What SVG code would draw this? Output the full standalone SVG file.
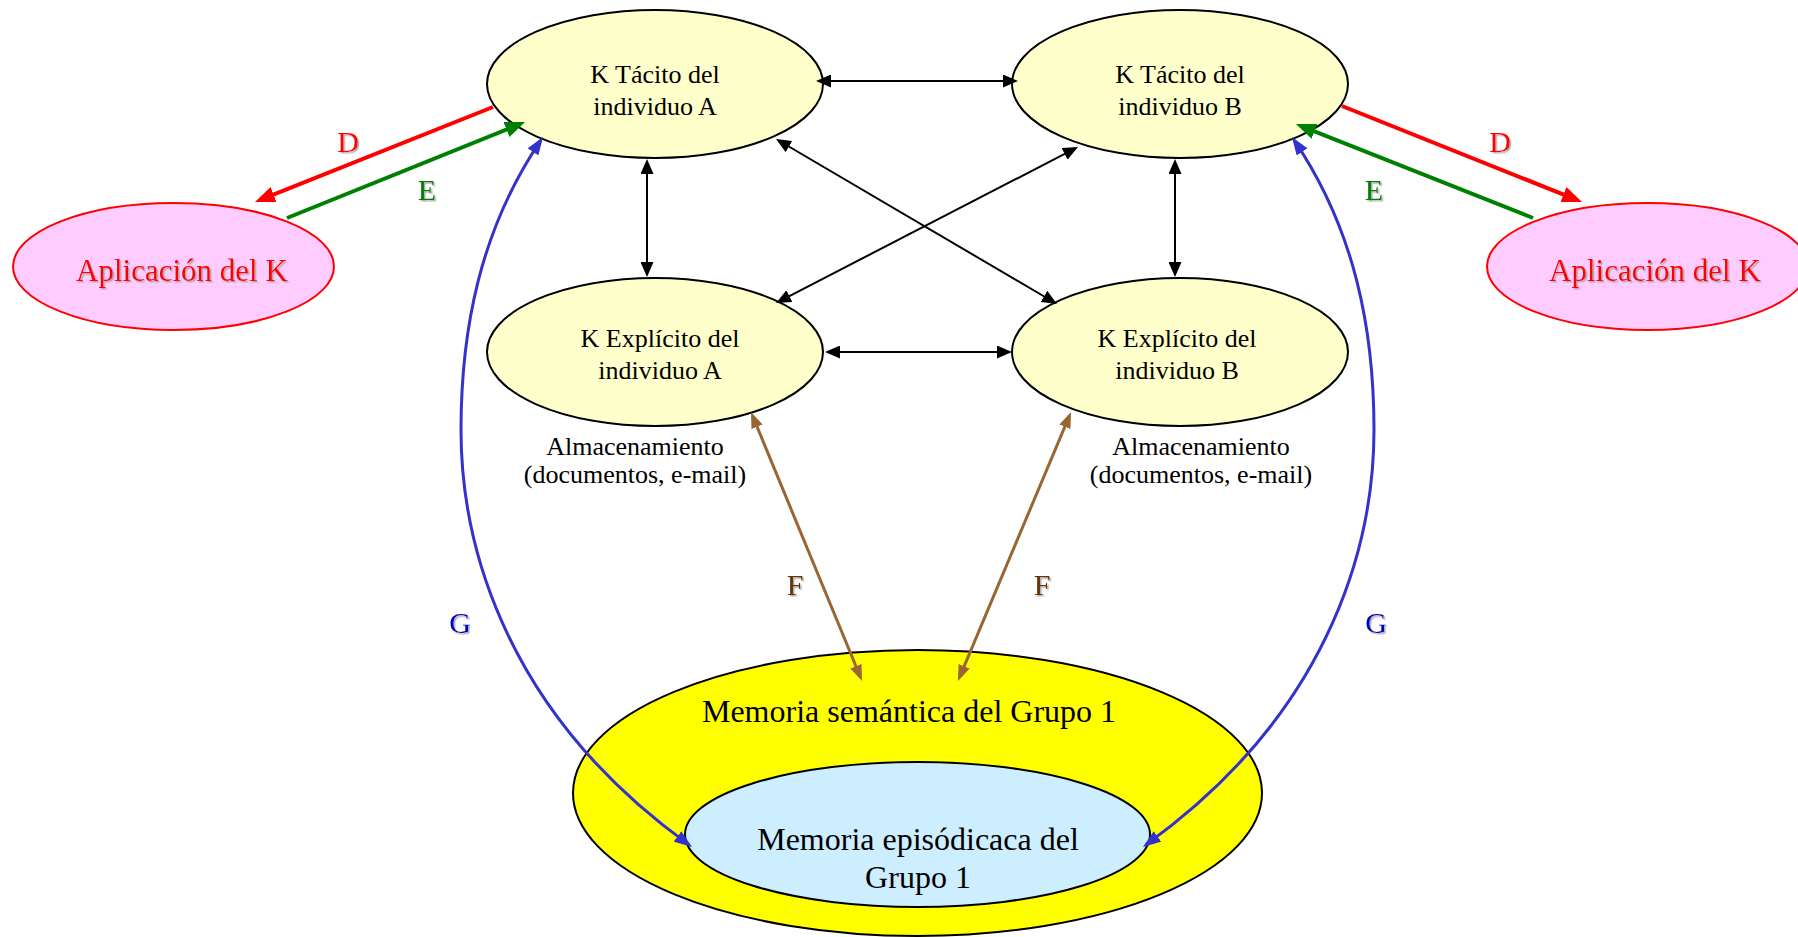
<svg xmlns="http://www.w3.org/2000/svg" width="1798" height="937" viewBox="0 0 1798 937">
<style>
.t{font-family:"Liberation Serif","Times New Roman",serif;text-anchor:middle}
.nd{font-size:26px;fill:#000}
.k{fill:#ffffcc;stroke:#000;stroke-width:2}
.ap{fill:#ffccff;stroke:#ff0000;stroke-width:2}
.apt{font-size:31px;fill:#ff0000}
.mem{font-size:32px;fill:#000}
.lbl{font-size:30px}
.blk{fill:none;stroke:#000;stroke-width:2}
.red{fill:none;stroke:#ff0000;stroke-width:4}
.grn{fill:none;stroke:#008000;stroke-width:4}
.brn{fill:none;stroke:#996633;stroke-width:3}
.blu{fill:none;stroke:#3333cc;stroke-width:3}
</style>
<defs>
<filter id="sh" x="-20%" y="-20%" width="140%" height="140%">
<feDropShadow dx="1.5" dy="1.5" stdDeviation="0.6" flood-color="#999999" flood-opacity="0.8"/>
</filter>
<marker id="mBlk" markerUnits="userSpaceOnUse" markerWidth="15" markerHeight="13" refX="12" refY="6.5" orient="auto-start-reverse"><path d="M0,0 L15,6.5 L0,13 z" fill="#000"/></marker>
<marker id="mRed" markerUnits="userSpaceOnUse" markerWidth="20" markerHeight="16" refX="15" refY="8" orient="auto-start-reverse"><path d="M0,0 L20,8 L0,16 z" fill="#ff0000"/></marker>
<marker id="mGrn" markerUnits="userSpaceOnUse" markerWidth="20" markerHeight="16" refX="15" refY="8" orient="auto-start-reverse"><path d="M0,0 L20,8 L0,16 z" fill="#008000"/></marker>
<marker id="mBrn" markerUnits="userSpaceOnUse" markerWidth="16" markerHeight="12" refX="12" refY="6" orient="auto-start-reverse"><path d="M0,0 L16,6 L0,12 z" fill="#996633"/></marker>
<marker id="mBlu" markerUnits="userSpaceOnUse" markerWidth="18" markerHeight="13" refX="14" refY="6.5" orient="auto-start-reverse"><path d="M0,0 L18,6.5 L0,13 z" fill="#3333cc"/></marker>
</defs>
<rect width="1798" height="937" fill="#ffffff"/>

<g id="tacitoA">
<ellipse class="k" cx="655" cy="84" rx="168" ry="74"/>
<text class="t nd" x="655" y="83">K Tácito del</text>
<text class="t nd" x="655" y="115">individuo A</text>
</g>
<g id="tacitoB">
<ellipse class="k" cx="1180" cy="84" rx="168" ry="74"/>
<text class="t nd" x="1180" y="83">K Tácito del</text>
<text class="t nd" x="1180" y="115">individuo B</text>
</g>
<g id="explicitoA">
<ellipse class="k" cx="655" cy="352" rx="168" ry="74"/>
<text class="t nd" x="660" y="347">K Explícito del</text>
<text class="t nd" x="660" y="379">individuo A</text>
</g>
<g id="explicitoB">
<ellipse class="k" cx="1180" cy="352" rx="168" ry="74"/>
<text class="t nd" x="1177" y="347">K Explícito del</text>
<text class="t nd" x="1177" y="379">individuo B</text>
</g>
<g id="aplicacionA">
<ellipse class="ap" cx="173.5" cy="266.5" rx="160.5" ry="63.5"/>
<text class="t apt" x="182" y="281" filter="url(#sh)">Aplicación del K</text>
</g>
<g id="aplicacionB">
<ellipse class="ap" cx="1647.5" cy="266.5" rx="160.5" ry="63.5"/>
<text class="t apt" x="1655" y="281" filter="url(#sh)">Aplicación del K</text>
</g>
<g id="almacenA">
<text class="t nd" x="635" y="455">Almacenamiento</text>
<text class="t nd" x="635" y="483">(documentos, e-mail)</text>
</g>
<g id="almacenB">
<text class="t nd" x="1201" y="455">Almacenamiento</text>
<text class="t nd" x="1201" y="483">(documentos, e-mail)</text>
</g>
<g id="semantica">
<ellipse cx="917.5" cy="793" rx="344.5" ry="143" fill="#ffff00" stroke="#000" stroke-width="2"/>
<text class="t mem" x="909" y="722">Memoria semántica del Grupo 1</text>
</g>
<g id="episodica">
<ellipse cx="917.5" cy="834.5" rx="232.5" ry="72.5" fill="#cceeff" stroke="#000" stroke-width="2"/>
<text class="t mem" x="918" y="850">Memoria episódicaca del</text>
<text class="t mem" x="918" y="888">Grupo 1</text>
</g>

<g id="connectors">
<path class="blk" d="M819,81 L1015,81" marker-start="url(#mBlk)" marker-end="url(#mBlk)"/>
<path class="blk" d="M828,352 L1009,352" marker-start="url(#mBlk)" marker-end="url(#mBlk)"/>
<path class="blk" d="M647,162 L647,274" marker-start="url(#mBlk)" marker-end="url(#mBlk)"/>
<path class="blk" d="M1175,162 L1175,274" marker-start="url(#mBlk)" marker-end="url(#mBlk)"/>
<path class="blk" d="M778.6,140.5 L1054.4,302.5" marker-start="url(#mBlk)" marker-end="url(#mBlk)"/>
<path class="blk" d="M1075.3,148.4 L778.7,301.6" marker-start="url(#mBlk)" marker-end="url(#mBlk)"/>
<path class="red" d="M493,107 L259.6,200.1" marker-end="url(#mRed)"/>
<path class="grn" d="M287,218 L520.4,123.9" marker-end="url(#mGrn)"/>
<path class="red" d="M1342,106 L1577.4,200.1" marker-end="url(#mRed)"/>
<path class="grn" d="M1533,218 L1300.6,125.8" marker-end="url(#mGrn)"/>
<path class="brn" d="M752.5,415.7 L860.5,677.3" marker-start="url(#mBrn)" marker-end="url(#mBrn)"/>
<path class="brn" d="M1069.5,415.7 L959.5,677.3" marker-start="url(#mBrn)" marker-end="url(#mBrn)"/>
<path class="blu" d="M540.8,140.3 C480,230 461,330 461,430 C461,530 495,705 688.8,844.6" marker-start="url(#mBlu)" marker-end="url(#mBlu)"/>
<path class="blu" d="M1294.2,140.3 C1355,230 1374,330 1374,430 C1374,530 1340,705 1146.2,844.6" marker-start="url(#mBlu)" marker-end="url(#mBlu)"/>
</g>

<g id="labels" class="t lbl" filter="url(#sh)">
<text x="348" y="152" fill="#ff0000">D</text>
<text x="427" y="200" fill="#008000">E</text>
<text x="1500" y="152" fill="#ff0000">D</text>
<text x="1374" y="200" fill="#008000">E</text>
<text x="795" y="595" fill="#663300">F</text>
<text x="1042" y="595" fill="#663300">F</text>
<text x="460" y="633" fill="#0000cc">G</text>
<text x="1376" y="633" fill="#0000cc">G</text>
</g>
</svg>
